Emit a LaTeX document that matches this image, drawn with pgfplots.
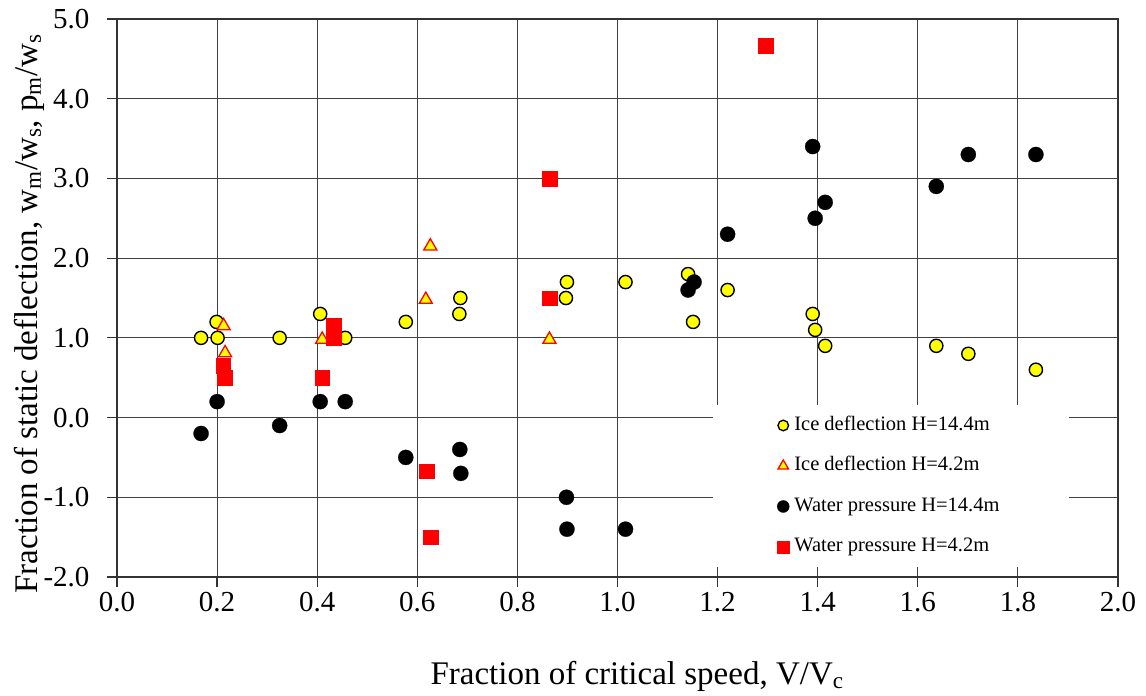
\documentclass[border=0pt]{standalone}
\usepackage{pgfplots}
\pgfplotsset{compat=1.18}
\usepackage{fontspec}
\setmainfont{Liberation Serif}
\definecolor{ptyellow}{RGB}{255,255,0}
\definecolor{ptred}{RGB}{255,0,0}
\begin{document}
\begin{tikzpicture}
\useasboundingbox (-117pt,-119pt) rectangle (1029pt,577pt);
\begin{axis}[
  at={(0pt,0pt)}, anchor=south west,
  scale only axis, width=1001pt, height=558pt,
  xmin=0, xmax=2, ymin=-2, ymax=5,
  xtick={0,0.2,0.4,0.6,0.8,1.0,1.2,1.4,1.6,1.8,2.0},
  xticklabels={0.0,0.2,0.4,0.6,0.8,1.0,1.2,1.4,1.6,1.8,2.0},
  ytick={-2,-1,0,1,2,3,4,5},
  yticklabels={-2.0,-1.0,0.0,1.0,2.0,3.0,4.0,5.0},
  grid=major, major grid style={black!75, line width=1pt},
  axis line style={black!80, line width=1.4pt},
  tick align=outside, major tick length=10pt, tick style={black!80, line width=1.2pt},
  xtick pos=left, ytick pos=left,
  every tick label/.append style={font=\fontsize{29}{32}\selectfont},
  every y tick label/.append style={xshift=-14pt},
  every x tick label/.append style={yshift=-2pt},
  xlabel={Fraction of critical speed, V/V\textsubscript{c}},
  ylabel={Fraction of static deflection, w\textsubscript{m}/w\textsubscript{s}, p\textsubscript{m}/w\textsubscript{s}},
  label style={font=\fontsize{33}{36}\selectfont},
  xlabel style={at={(axis description cs:0.3097,-0.1935)}, anchor=base west},
  ylabel style={at={(axis description cs:-0.0799,-0.0358)}, anchor=base west},
  legend style={at={(0.5954,0.3082)}, anchor=north west, draw=none, fill=white,
    font=\fontsize{20.5}{24}\selectfont, inner xsep=64pt, inner ysep=11pt,
    row sep=22pt, column sep=0pt,
    nodes={inner xsep=5pt, inner ysep=0pt, text height=14pt, text depth=4.5pt}},
  legend cell align=left,
  legend image code/.code={\draw[mark repeat=2, mark phase=2, #1, mark options={scale=0.8}] plot coordinates {(0pt,0pt) (6pt,0pt) (12pt,0pt)};},
]
\addplot[only marks, mark=*, draw=black, fill=ptyellow, line width=1.4pt, mark size=6.6pt] coordinates {
(0.168,1.0) (0.199,1.2) (0.201,1.0) (0.325,1.0) (0.406,1.3) (0.456,1.0) (0.577,1.2)
(0.686,1.5) (0.684,1.3) (0.899,1.7) (0.897,1.5) (1.016,1.7) (1.141,1.8) (1.151,1.2)
(1.220,1.6) (1.390,1.3) (1.395,1.1) (1.415,0.9) (1.637,0.9) (1.701,0.8) (1.836,0.6)
};
\addlegendentry{Ice deflection H=14.4m}
\addplot[only marks, mark=triangle*, draw=ptred, fill=ptyellow, line width=1.3pt, mark size=7.5pt] coordinates {
(0.213,1.15) (0.216,0.81) (0.410,0.98) (0.617,1.48) (0.626,2.15) (0.864,0.98)
};
\addlegendentry{Ice deflection H=4.2m}
\addplot[only marks, mark=*, draw=black, fill=black, line width=0.2pt, mark size=7.6pt] coordinates {
(0.168,-0.2) (0.200,0.2) (0.325,-0.1) (0.406,0.2) (0.456,0.2) (0.577,-0.5) (0.685,-0.4)
(0.687,-0.7) (0.898,-1.0) (0.899,-1.4) (1.016,-1.4) (1.141,1.6) (1.153,1.7) (1.220,2.3)
(1.390,3.4) (1.395,2.5) (1.415,2.7) (1.637,2.9) (1.701,3.3) (1.836,3.3)
};
\addlegendentry{Water pressure H=14.4m}
\addplot[only marks, mark=square*, draw=ptred, fill=ptred, line width=0.2pt, mark size=7.3pt] coordinates {
(0.212,0.65) (0.215,0.5) (0.410,0.5) (0.433,1.16) (0.433,1.0) (0.618,-0.67) (0.627,-1.5)
(0.864,3.0) (0.864,1.5) (1.296,4.67)
};
\addlegendentry{Water pressure H=4.2m}
\end{axis}
\end{tikzpicture}
\end{document}
